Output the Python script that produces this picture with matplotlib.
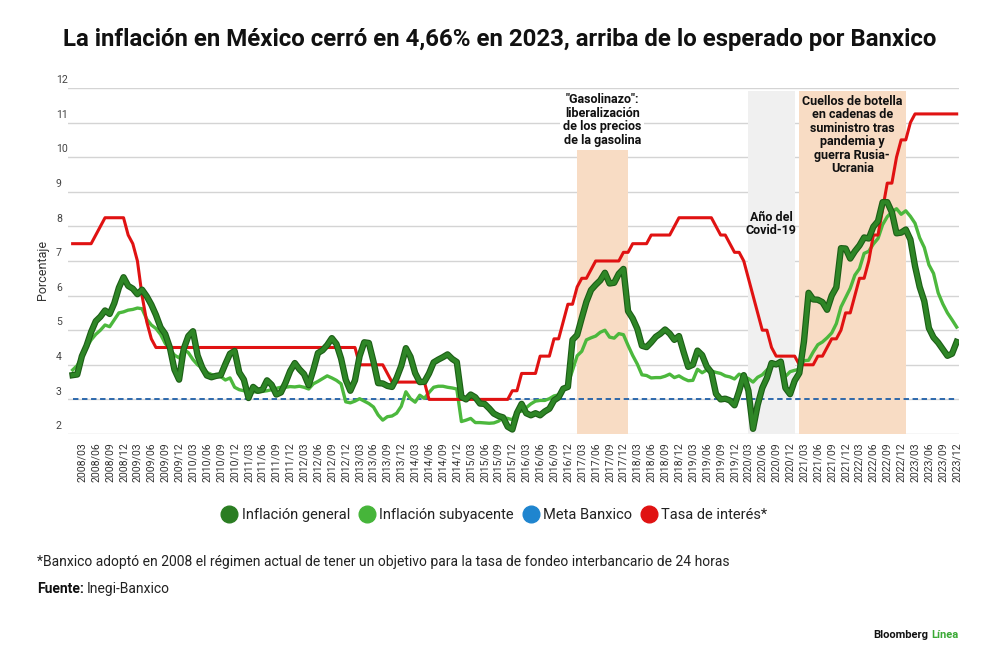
import matplotlib
matplotlib.use("Agg")
import matplotlib.pyplot as plt
import matplotlib.patheffects as pe
from matplotlib.lines import Line2D
from matplotlib.transforms import blended_transform_factory

plt.rcParams["font.family"] = ["Roboto", "DejaVu Sans"]

# ===== Data (monthly, 2008/01 - 2023/12) =====
MONTHS = [f"{y}/{m:02d}" for y in range(2008, 2024) for m in range(1, 13)]

INFLACION_GENERAL = [
    3.70, 3.72, 4.25, 4.55, 4.95, 5.26, 5.39, 5.57, 5.47, 5.78, 6.23, 6.53,  # 2008
    6.28, 6.20, 6.04, 6.17, 5.98, 5.74, 5.44, 5.08, 4.89, 4.50, 3.86, 3.57,  # 2009
    4.46, 4.83, 4.97, 4.27, 3.92, 3.69, 3.64, 3.68, 3.70, 4.02, 4.32, 4.40,  # 2010
    3.78, 3.57, 3.04, 3.36, 3.25, 3.28, 3.55, 3.42, 3.14, 3.20, 3.48, 3.82,  # 2011
    4.05, 3.87, 3.73, 3.41, 3.85, 4.34, 4.42, 4.57, 4.77, 4.60, 4.18, 3.57,  # 2012
    3.25, 3.55, 4.25, 4.65, 4.63, 4.09, 3.47, 3.46, 3.39, 3.36, 3.62, 3.97,  # 2013
    4.48, 4.23, 3.76, 3.50, 3.51, 3.75, 4.07, 4.15, 4.22, 4.30, 4.17, 4.08,  # 2014
    3.07, 3.00, 3.14, 3.06, 2.88, 2.87, 2.74, 2.59, 2.52, 2.48, 2.21, 2.13,  # 2015
    2.61, 2.87, 2.60, 2.54, 2.60, 2.54, 2.65, 2.73, 2.97, 3.06, 3.31, 3.36,  # 2016
    4.72, 4.86, 5.35, 5.82, 6.16, 6.31, 6.44, 6.66, 6.35, 6.37, 6.63, 6.77,  # 2017
    5.55, 5.34, 5.04, 4.55, 4.51, 4.65, 4.81, 4.90, 5.02, 4.90, 4.72, 4.83,  # 2018
    4.37, 3.94, 4.00, 4.41, 4.28, 3.95, 3.78, 3.16, 3.00, 3.02, 2.97, 2.83,  # 2019
    3.24, 3.70, 3.25, 2.15, 2.84, 3.33, 3.62, 4.05, 4.01, 4.09, 3.33, 3.15,  # 2020
    3.54, 3.76, 4.67, 6.08, 5.89, 5.88, 5.81, 5.59, 6.00, 6.24, 7.37, 7.36,  # 2021
    7.07, 7.28, 7.45, 7.68, 7.65, 7.99, 8.15, 8.70, 8.70, 8.41, 7.80, 7.82,  # 2022
    7.91, 7.62, 6.85, 6.25, 5.84, 5.06, 4.79, 4.64, 4.45, 4.26, 4.32, 4.66,  # 2023
]

INFLACION_SUBYACENTE = [
    3.85, 3.98, 4.25, 4.50, 4.72, 4.88, 5.00, 5.15, 5.10, 5.30, 5.50, 5.53,  # 2008
    5.58, 5.60, 5.64, 5.62, 5.32, 5.15, 5.05, 4.88, 4.62, 4.45, 4.28, 4.20,  # 2009
    4.45, 4.35, 4.15, 4.00, 3.90, 3.78, 3.72, 3.68, 3.66, 3.56, 3.62, 3.35,  # 2010
    3.28, 3.25, 3.22, 3.22, 3.21, 3.23, 3.25, 3.28, 3.32, 3.35, 3.35, 3.37,  # 2011
    3.36, 3.38, 3.35, 3.30, 3.45, 3.52, 3.60, 3.68, 3.62, 3.55, 3.45, 2.93,  # 2012
    2.90, 2.95, 3.02, 2.95, 2.88, 2.78, 2.55, 2.40, 2.50, 2.52, 2.60, 2.80,  # 2013
    3.22, 3.02, 2.92, 3.12, 3.03, 3.20, 3.35, 3.38, 3.38, 3.35, 3.33, 3.30,  # 2014
    2.36, 2.40, 2.45, 2.33, 2.33, 2.32, 2.31, 2.32, 2.37, 2.47, 2.45, 2.41,  # 2015
    2.64, 2.66, 2.76, 2.87, 2.95, 2.97, 2.97, 3.02, 3.10, 3.13, 3.29, 3.44,  # 2016
    3.84, 4.26, 4.39, 4.72, 4.78, 4.83, 4.94, 5.00, 4.80, 4.77, 4.90, 4.87,  # 2017
    4.56, 4.27, 4.02, 3.71, 3.69, 3.62, 3.63, 3.63, 3.67, 3.73, 3.63, 3.68,  # 2018
    3.60, 3.54, 3.55, 3.87, 3.77, 3.85, 3.82, 3.78, 3.75, 3.68, 3.65, 3.59,  # 2019
    3.73, 3.66, 3.60, 3.50, 3.64, 3.71, 3.85, 3.97, 3.99, 3.98, 3.66, 3.80,  # 2020
    3.84, 3.87, 4.12, 4.13, 4.37, 4.58, 4.66, 4.78, 4.92, 5.19, 5.67, 5.94,  # 2021
    6.21, 6.59, 6.78, 7.22, 7.28, 7.49, 7.65, 8.05, 8.28, 8.42, 8.51, 8.35,  # 2022
    8.45, 8.29, 8.09, 7.67, 7.39, 6.89, 6.64, 6.08, 5.76, 5.50, 5.30, 5.09,  # 2023
]

TASA_INTERES = [
    7.50, 7.50, 7.50, 7.50, 7.50, 7.75, 8.00, 8.25, 8.25, 8.25, 8.25, 8.25,  # 2008
    7.75, 7.50, 7.00, 6.00, 5.25, 4.75, 4.50, 4.50, 4.50, 4.50, 4.50, 4.50,  # 2009
    4.50, 4.50, 4.50, 4.50, 4.50, 4.50, 4.50, 4.50, 4.50, 4.50, 4.50, 4.50,  # 2010
    4.50, 4.50, 4.50, 4.50, 4.50, 4.50, 4.50, 4.50, 4.50, 4.50, 4.50, 4.50,  # 2011
    4.50, 4.50, 4.50, 4.50, 4.50, 4.50, 4.50, 4.50, 4.50, 4.50, 4.50, 4.50,  # 2012
    4.50, 4.50, 4.00, 4.00, 4.00, 4.00, 4.00, 4.00, 3.75, 3.50, 3.50, 3.50,  # 2013
    3.50, 3.50, 3.50, 3.50, 3.50, 3.00, 3.00, 3.00, 3.00, 3.00, 3.00, 3.00,  # 2014
    3.00, 3.00, 3.00, 3.00, 3.00, 3.00, 3.00, 3.00, 3.00, 3.00, 3.00, 3.25,  # 2015
    3.25, 3.75, 3.75, 3.75, 3.75, 4.25, 4.25, 4.25, 4.75, 4.75, 5.25, 5.75,  # 2016
    5.75, 6.25, 6.50, 6.50, 6.75, 7.00, 7.00, 7.00, 7.00, 7.00, 7.00, 7.25,  # 2017
    7.25, 7.50, 7.50, 7.50, 7.50, 7.75, 7.75, 7.75, 7.75, 7.75, 8.00, 8.25,  # 2018
    8.25, 8.25, 8.25, 8.25, 8.25, 8.25, 8.25, 8.00, 7.75, 7.75, 7.50, 7.25,  # 2019
    7.25, 7.00, 6.50, 6.00, 5.50, 5.00, 5.00, 4.50, 4.25, 4.25, 4.25, 4.25,  # 2020
    4.25, 4.00, 4.00, 4.00, 4.00, 4.25, 4.25, 4.50, 4.75, 4.75, 5.00, 5.50,  # 2021
    5.50, 6.00, 6.50, 6.50, 7.00, 7.75, 7.75, 8.50, 9.25, 9.25, 10.00, 10.50,  # 2022
    10.50, 11.00, 11.25, 11.25, 11.25, 11.25, 11.25, 11.25, 11.25, 11.25, 11.25, 11.25,  # 2023
]

META_BANXICO = 3.0

TICK_LABELS = MONTHS[2::3]  # 2008/03, 2008/06, ...
Y_TICKS = [2, 3, 4, 5, 6, 7, 8, 9, 10, 11, 12]

# (start month, end month, text, colour) for shaded periods
BANDS = [
    ("2017/02", "2017/12", '"Gasolinazo":\nliberalización\nde los precios\nde la gasolina', "#f8dcc4"),
    ("2020/03", "2020/12", "Año del\nCovid-19", "#f0f0f0"),
    ("2021/02", "2022/12", "Cuellos de botella\nen cadenas de\nsuministro tras\npandemia y\nguerra Rusia-\nUcrania", "#f8dcc4"),
]
BAND_TEXT_Y = [11.07, 8.07, 10.64]

COLOR_GENERAL = "#2e8626"
COLOR_SUBY = "#4cb83d"
COLOR_META = "#1f5fa8"
COLOR_TASA = "#e01212"

x = list(range(len(MONTHS)))
idx = {m: i for i, m in enumerate(MONTHS)}

fig = plt.figure(figsize=(10, 6.64), dpi=100)
ax = fig.add_axes([0.068, 0.3464, 0.891, 0.5211])

ax.set_xlim(-1.0, len(MONTHS) - 0.5)
ax.set_ylim(2, 12)

for sp in ax.spines.values():
    sp.set_visible(False)

# gridlines
for v in Y_TICKS:
    ax.axhline(v, color="#d4d4d4", linewidth=1.0, zorder=0)

# shaded periods + their notes
for (start, end, text, color), ty in zip(BANDS, BAND_TEXT_Y):
    b0, b1 = idx[start] - 0.1, idx[end] + 1.0
    ax.axvspan(b0, b1, ymin=0, ymax=0.99, color=color, linewidth=0, zorder=1)
    box = None
    if start == "2017/02":
        box = dict(facecolor="white", edgecolor="none", pad=2)
    ax.text((b0 + b1) / 2, ty, text, ha="center", va="center", fontsize=9,
            fontweight="bold", color="#111111", linespacing=1.05, zorder=7, bbox=box)

ax.plot([x[0], x[-1]], [META_BANXICO, META_BANXICO], color=COLOR_META,
        linewidth=1.3, dashes=(3, 2), zorder=3)
ax.plot(x, INFLACION_SUBYACENTE, color=COLOR_SUBY, linewidth=2.4, zorder=4,
        solid_joinstyle="round")
ax.plot(x, TASA_INTERES, color=COLOR_TASA, linewidth=2.2, zorder=5,
        solid_joinstyle="round")
ax.plot(x, INFLACION_GENERAL, color=COLOR_GENERAL, linewidth=3.0, zorder=6,
        solid_joinstyle="round",
        path_effects=[pe.Stroke(linewidth=4.6, foreground="#1c5e16"), pe.Normal()])

# x ticks
ax.set_xticks([idx[m] for m in TICK_LABELS])
ax.set_xticklabels(TICK_LABELS, rotation=90, fontsize=7.6, color="#333333")
ax.tick_params(axis="x", length=0, pad=6)

# y ticks drawn above their gridlines
ax.set_yticks([])
trans = blended_transform_factory(ax.transAxes, ax.transData)
for v in Y_TICKS:
    ax.text(-0.0135, v + 0.08, str(v), transform=trans, ha="left", va="bottom",
            fontsize=7.6, color="#444444")

fig.text(0.043, 0.593, "Porcentaje", rotation=90, ha="center", va="center",
         fontsize=9, color="#333333")

fig.text(0.5, 0.941, "La inflación en México cerró en 4,66% en 2023, arriba de lo esperado por Banxico",
         ha="center", va="center", fontsize=17.3, fontweight="bold", color="#111111")

handles = [
    Line2D([], [], marker="o", linestyle="none", markersize=12, color="#2a7d22"),
    Line2D([], [], marker="o", linestyle="none", markersize=12, color="#46b53a"),
    Line2D([], [], marker="o", linestyle="none", markersize=12, color="#1f85cf"),
    Line2D([], [], marker="o", linestyle="none", markersize=12, color="#e01212"),
]
fig.legend(handles, ["Inflación general", "Inflación subyacente", "Meta Banxico", "Tasa de interés*"],
           loc="center", bbox_to_anchor=(0.494, 0.2244), ncol=4, frameon=False,
           fontsize=10.5, handlelength=1.2, handletextpad=0.25, columnspacing=0.55,
           labelcolor="#222222")

fig.text(0.037, 0.1536, "*Banxico adoptó en 2008 el régimen actual de tener un objetivo para la tasa de fondeo interbancario de 24 horas",
         ha="left", va="center", fontsize=10, color="#222222")
t = fig.text(0.037, 0.113, "Fuente:", ha="left", va="center", fontsize=10,
             fontweight="bold", color="#111111")
fig.canvas.draw()
bb = t.get_window_extent()
fig.text(bb.x1 / 1000 + 0.003, 0.113, "Inegi-Banxico", ha="left", va="center",
         fontsize=10, color="#222222")

t2 = fig.text(0.958, 0.0437, "Línea", ha="right", va="center", fontsize=8,
              fontweight="bold", color="#3aa935")
fig.canvas.draw()
bb2 = t2.get_window_extent()
fig.text(bb2.x0 / 1000 - 0.003, 0.0437, "Bloomberg", ha="right", va="center",
         fontsize=8, fontweight="bold", color="#111111")

fig.savefig("out.png", dpi=100)
